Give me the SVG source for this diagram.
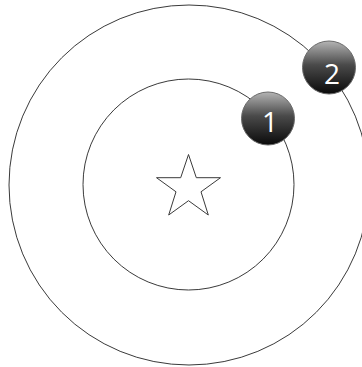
<svg xmlns="http://www.w3.org/2000/svg" width="362" height="367" viewBox="0 0 362 367">
<defs>
<linearGradient id="ball" x1="0" y1="0" x2="0" y2="1">
<stop offset="0" stop-color="#b4b4b4"/>
<stop offset="0.45" stop-color="#4a4a4a"/>
<stop offset="1" stop-color="#0a0a0a"/>
</linearGradient>
</defs>
<style>
.orbit{fill:none;stroke:#3a3a3a;stroke-width:1}
.star{fill:#fff;stroke:#3a3a3a;stroke-width:1;stroke-linejoin:miter}
.ball{fill:url(#ball);stroke:#6a6a6a;stroke-width:1}
.num{fill:#fff;font-family:"Open Sans","Liberation Sans",sans-serif;font-size:28px;text-anchor:middle}
</style>
<rect width="362" height="367" fill="#fff"/>
<g id="outer-orbit"><circle class="orbit" cx="189" cy="185" r="180"/></g>
<g id="inner-orbit"><circle class="orbit" cx="188.5" cy="184.5" r="105.5"/></g>
<g id="star"><polygon class="star" points="188.5,154.5 196.3,177.7 220.5,177.7 201.0,191.8 208.3,215.0 188.5,200.7 168.7,215.0 176.0,191.8 156.5,177.7 180.7,177.7"/></g>
<g id="ball-1"><circle class="ball" cx="268" cy="118.5" r="26.5"/><text class="num" x="270" y="132">1</text></g>
<g id="ball-2"><circle class="ball" cx="329" cy="67.5" r="26.5"/><text class="num" x="332" y="84">2</text></g>
</svg>
